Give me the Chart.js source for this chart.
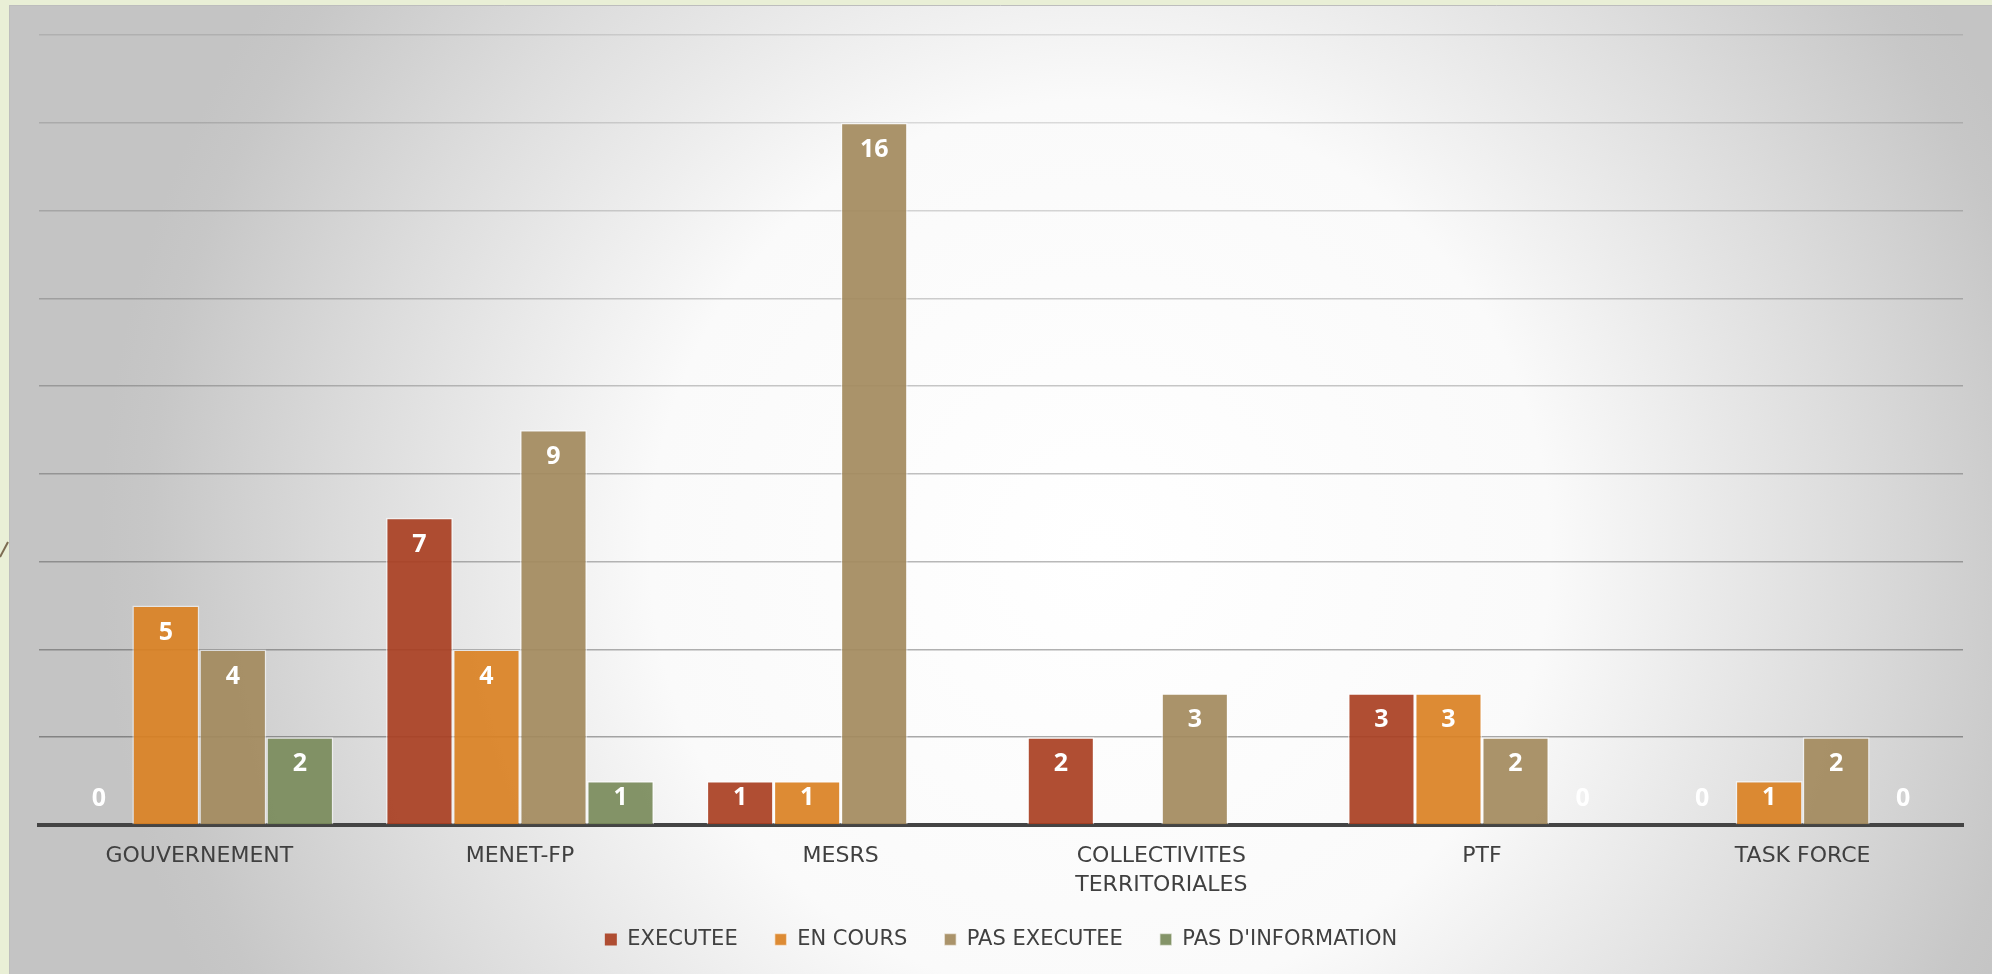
<!DOCTYPE html>
<html>
<head>
<meta charset="utf-8">
<script src="https://cdn.jsdelivr.net/npm/chart.js@4.4.1/dist/chart.umd.min.js"></script>
<style>
  html, body { margin: 0; padding: 0; background: #e9efd6; }
  #wrap { width: 1992px; height: 974px; position: relative; }
</style>
</head>
<body>
<div id="wrap"><canvas id="c" width="1992" height="974"></canvas></div>
<script>
// ---- Data ----
const categories = ['GOUVERNEMENT', 'MENET-FP', 'MESRS', ['COLLECTIVITES', 'TERRITORIALES'], 'PTF', 'TASK FORCE'];
const seriesNames = ['EXECUTEE', 'EN COURS', 'PAS EXECUTEE', "PAS D'INFORMATION"];
const executee    = [0, 7, 1, 2, 3, 0];
const enCours     = [5, 4, 1, null, 3, 1];
const pasExecutee = [4, 9, 16, 3, 2, 2];
const pasInfo     = [2, 1, null, null, 0, 0];
const yMax = 18;
const yStep = 2;

const colors = ['rgba(169,63,34,0.92)', 'rgba(218,129,35,0.92)', 'rgba(163,138,93,0.92)', 'rgba(121,139,91,0.92)'];

const bgPlugin = {
  id: 'bg',
  beforeDraw(chart) {
    const ctx = chart.ctx;
    const W = chart.width, H = chart.height;
    ctx.save();
    ctx.fillStyle = '#e9efd6';
    ctx.fillRect(0, 0, W, H);
    const g = ctx.createRadialGradient(1100, 550, 0, 1100, 550, 1000);
    g.addColorStop(0, '#ffffff');
    g.addColorStop(0.45, '#fafafa');
    g.addColorStop(0.6, '#ebebeb');
    g.addColorStop(0.75, '#dcdcdc');
    g.addColorStop(0.95, '#c7c7c7');
    g.addColorStop(1, '#c4c4c4');
    ctx.fillStyle = g;
    ctx.fillRect(9, 5, W - 9, H - 5);
    ctx.strokeStyle = '#bdbdbd';
    ctx.lineWidth = 1;
    ctx.beginPath();
    ctx.moveTo(9, 5.5); ctx.lineTo(W, 5.5);
    ctx.moveTo(9.5, 5); ctx.lineTo(9.5, H);
    ctx.stroke();
    // slide decoration line at left edge
    ctx.strokeStyle = '#7d6c52';
    ctx.lineWidth = 2;
    ctx.beginPath();
    ctx.moveTo(0, 557); ctx.lineTo(8, 542);
    ctx.stroke();
    ctx.restore();
  }
};

const labelPlugin = {
  id: 'valueLabels',
  afterDatasetsDraw(chart) {
    const ctx = chart.ctx;
    ctx.save();
    ctx.fillStyle = '#ffffff';
    ctx.font = 'bold 25px "Open Sans", sans-serif';
    ctx.textAlign = 'center';
    ctx.textBaseline = 'middle';
    chart.data.datasets.forEach((ds, di) => {
      const meta = chart.getDatasetMeta(di);
      meta.data.forEach((bar, i) => {
        const v = ds.data[i];
        if (v === null || v === undefined) return;
        const y = Math.min(bar.y + 27, bar.base - 26);
        ctx.fillText(String(v), bar.x, y);
      });
    });
    ctx.restore();
  }
};

const seriesData = [executee, enCours, pasExecutee, pasInfo];

new Chart(document.getElementById('c'), {
  type: 'bar',
  data: {
    labels: categories,
    datasets: seriesNames.map((name, k) => ({
      label: name,
      data: seriesData[k],
      backgroundColor: colors[k],
      borderColor: 'rgba(255,255,255,0.55)',
      borderWidth: (c) => (c.raw ? 1.5 : 0),
      borderSkipped: 'bottom',
      categoryPercentage: 0.836,
      barPercentage: 1.0
    }))
  },
  options: {
    responsive: false,
    animation: false,
    devicePixelRatio: 1,
    layout: { padding: { top: 35, left: 39, right: 29, bottom: 14 } },
    plugins: {
      legend: {
        position: 'bottom',
        labels: {
          boxWidth: 12,
          boxHeight: 12,
          padding: 37,
          color: '#404040',
          font: { family: '"DejaVu Sans", sans-serif', size: 21 }
        }
      },
      tooltip: { enabled: false }
    },
    scales: {
      x: {
        grid: { display: false, drawTicks: false },
        border: { display: true, color: '#444444', width: 4 },
        ticks: {
          color: '#404040',
          padding: 17,
          maxRotation: 0,
          autoSkip: false,
          font: { family: '"DejaVu Sans", sans-serif', size: 22, lineHeight: 1.32 }
        },
        afterFit(s) { s.height = 67; }
      },
      y: {
        min: 0,
        max: yMax,
        ticks: { display: false, stepSize: yStep },
        border: { display: false },
        grid: {
          drawTicks: false,
          lineWidth: 1.5,
          color: (c) => {
            const v = c.tick ? c.tick.value : 0;
            if (v === 0) return 'rgba(0,0,0,0)';
            const a = 0.36 - 0.26 * (v / yMax);
            return 'rgba(0,0,0,' + a.toFixed(3) + ')';
          }
        }
      }
    }
  },
  plugins: [bgPlugin, labelPlugin]
});
</script>
</body>
</html>
